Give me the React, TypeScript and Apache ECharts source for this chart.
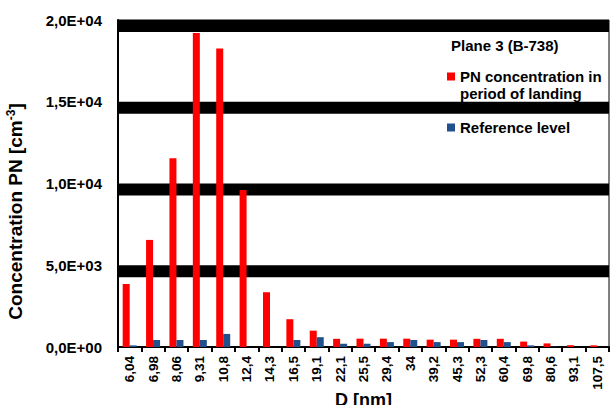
import React, { useEffect, useRef } from "react";
import * as echarts from "echarts";

const categories = ["6,04", "6,98", "8,06", "9,31", "10,8", "12,4", "14,3", "16,5", "19,1", "22,1", "25,5", "29,4", "34", "39,2", "45,3", "52,3", "60,4", "69,8", "80,6", "93,1", "107,5"];
const pnLanding = [3850, 6550, 11550, 19200, 18250, 9600, 3350, 1700, 1000, 500, 510, 510, 510, 450, 450, 500, 500, 330, 220, 110, 100];
const referenceLevel = [100, 430, 430, 430, 800, 0, 0, 430, 600, 200, 200, 300, 430, 300, 300, 430, 300, 100, 20, 0, 0];
const gridValues = [20000, 15000, 10000, 5000];
const bandThickness = 734;

const PN_NAME = "PN concentration in period of landing";
const REF_NAME = "Reference level";

function fmt(v: number): string {
  if (v === 0) return "0,0E+00";
  const exp = Math.floor(Math.log10(v) + 1e-9);
  const m = v / Math.pow(10, exp);
  return m.toFixed(1).replace(".", ",") + "E+" + String(exp).padStart(2, "0");
}

export default function App() {
  const ref = useRef<HTMLDivElement>(null);
  useEffect(() => {
    if (!ref.current) return;
    const chart = echarts.init(ref.current, undefined, { renderer: "svg" });
    const font = "'Liberation Sans', Arial, sans-serif";
    chart.setOption({
      animation: false,
      textStyle: { fontFamily: font },
      title: {
        text: "Plane 3 (B-738)",
        left: 451,
        top: 38,
        padding: 0,
        textStyle: { fontSize: 15, fontWeight: "bold", color: "#000", fontFamily: font },
      },
      legend: [
        {
          data: [PN_NAME],
          left: 447,
          top: 51,
          padding: 0,
          icon: "rect",
          itemWidth: 8,
          itemHeight: 8,
          formatter: () => " \nPN concentration in\nperiod of landing",
          textStyle: { fontSize: 15, fontWeight: "bold", color: "#000", lineHeight: 17, fontFamily: font },
        },
        {
          data: [REF_NAME],
          left: 447,
          top: 119,
          padding: 0,
          icon: "rect",
          itemWidth: 8,
          itemHeight: 8,
          textStyle: { fontSize: 15, fontWeight: "bold", color: "#000", lineHeight: 17, fontFamily: font },
        },
      ],
      grid: {
        left: 118,
        right: 5,
        top: 20,
        bottom: 58,
        outerBoundsMode: "none",
        containLabel: false,
        show: true,
        borderColor: "#000",
        borderWidth: 1,
        backgroundColor: "transparent",
      },
      xAxis: {
        type: "category",
        data: categories,
        boundaryGap: true,
        name: "D [nm]",
        nameLocation: "middle",
        nameGap: 44,
        nameMoveOverlap: false,
        nameTextStyle: { fontSize: 18, fontWeight: "bold", color: "#000", fontFamily: font },
        axisLine: { lineStyle: { color: "#000", width: 2 } },
        axisTick: { show: true, length: 5, lineStyle: { color: "#000", width: 2 } },
        axisLabel: { rotate: 90, fontSize: 13.5, fontWeight: "bold", color: "#000", margin: 9, interval: 0, fontFamily: font },
      },
      yAxis: {
        type: "value",
        min: 0,
        max: 20000,
        interval: 5000,
        name: "{a|Concentration PN [cm}{s|-3}{a|]}",
        nameLocation: "middle",
        nameGap: 92,
        nameMoveOverlap: false,
        nameTextStyle: {
          color: "#000",
          padding: [0, 56, 0, 0],
          rich: {
            a: { fontSize: 19, fontWeight: "bold", color: "#000", fontFamily: font },
            s: { fontSize: 12, fontWeight: "bold", color: "#000", verticalAlign: "top", padding: [0, 0, 9, 0], fontFamily: font },
          },
        },
        axisLine: { show: true, lineStyle: { color: "#000", width: 2 } },
        axisTick: { show: false },
        splitLine: { show: false },
        axisLabel: { formatter: fmt, fontSize: 15, fontWeight: "bold", color: "#000", margin: 16, fontFamily: font },
      },
      series: [
        {
          type: "line",
          data: [],
          silent: true,
          z: 1,
          markArea: {
            silent: true,
            itemStyle: { color: "#000", opacity: 1 },
            data: gridValues.map((v) => [{ yAxis: v }, { yAxis: v - bandThickness }]),
          },
        },
        {
          name: PN_NAME,
          type: "bar",
          data: pnLanding,
          barWidth: 7,
          barGap: "0%",
          itemStyle: { color: "#ff0000" },
          z: 3,
        },
        {
          name: REF_NAME,
          type: "bar",
          data: referenceLevel,
          barWidth: 7,
          barGap: "0%",
          itemStyle: { color: "#21508c" },
          z: 3,
        },
      ],
    });
    return () => chart.dispose();
  }, []);
  return <div ref={ref} style={{ width: 614, height: 405, position: "absolute", left: 0, top: 0 }} />;
}
